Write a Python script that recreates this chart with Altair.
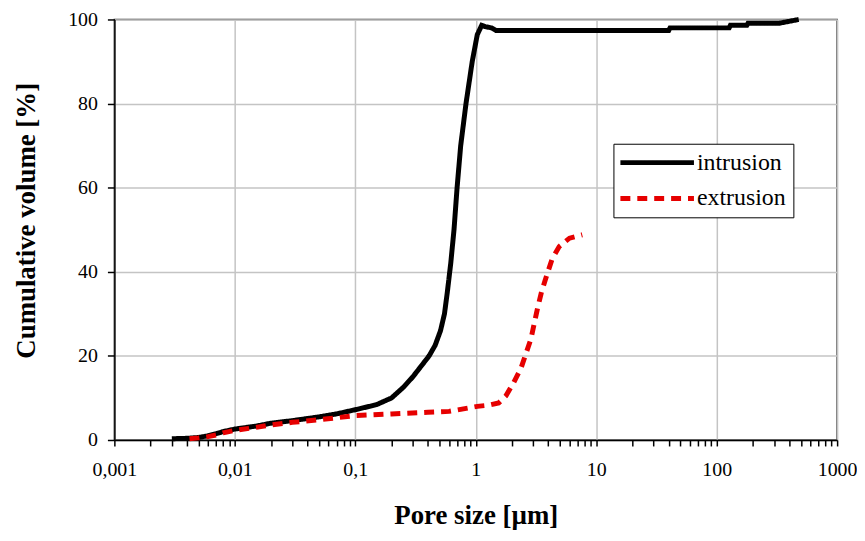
import altair as alt
import pandas as pd

# Intrusion curve (pore size in µm, cumulative volume in %)
intr_x = [0.003, 0.004, 0.005, 0.006, 0.007, 0.008, 0.01, 0.015, 0.02, 0.03, 0.05, 0.07,
          0.1, 0.15, 0.2, 0.25, 0.3, 0.34, 0.41, 0.46, 0.51, 0.55, 0.58, 0.62, 0.66, 0.70,
          0.75, 0.83, 0.935, 1.03, 1.12, 1.2, 1.35, 1.47, 40, 41, 127, 130, 178, 182, 330, 480]
intr_y = [0.3, 0.4, 0.6, 1.0, 1.5, 2.0, 2.6, 3.3, 4.0, 4.6, 5.5, 6.2,
          7.2, 8.4, 10, 12.5, 15, 17, 20, 22.5, 26, 30, 35, 42, 50, 60,
          70, 80, 90, 96.4, 98.6, 98.3, 98.0, 97.4, 97.4, 98.0, 98.0, 98.6, 98.6, 99.1, 99.1, 100]

# Extrusion curve
extr_x = [0.0042, 0.005, 0.006, 0.007, 0.008, 0.01, 0.015, 0.02, 0.03, 0.05, 0.1, 0.2, 0.4,
          0.6, 1.03, 1.3, 1.55, 1.78, 2.05, 2.37, 2.87, 3.24, 3.5, 3.77, 4.3, 4.93, 6.0, 7.66]
extr_y = [0.3, 0.5, 0.8, 1.2, 1.7, 2.3, 3.0, 3.6, 4.2, 4.8, 5.8, 6.2, 6.6,
          6.8, 8.0, 8.3, 8.8, 10.5, 13.5, 17, 24, 31, 35, 38, 43, 46, 48, 48.8]

series = ["intrusion", "extrusion"]
colors = ["#000000", "#e60000"]
dashes = [[1, 0], [10, 7]]

x_ticks = [round(m * 10 ** k, 6) for k in range(-3, 3) for m in range(1, 10)] + [1000]
y_ticks = [0, 20, 40, 60, 80, 100]

df = pd.concat([
    pd.DataFrame({"x": intr_x, "y": intr_y, "series": "intrusion"}),
    pd.DataFrame({"x": extr_x, "y": extr_y, "series": "extrusion"}),
])

decade = "abs(log(datum.value)/LN10 - round(log(datum.value)/LN10)) < 0.001"
FONT = "Liberation Serif"

chart = alt.Chart(df).mark_line(strokeWidth=5, strokeCap="butt").encode(
    x=alt.X("x:Q",
            scale=alt.Scale(type="log", domain=[0.001, 1000], nice=False),
            axis=alt.Axis(values=x_ticks, title="Pore size [µm]",
                          labelExpr=f"{decade} ? replace(toString(datum.value), '.', ',') : ''",
                          labelOverlap=False, labelFlush=False,
                          labelFont=FONT, labelFontSize=20, labelColor="black",
                          gridOpacity={"condition": {"test": decade, "value": 1}, "value": 0},
                          ticks=True, tickSize=6, tickWidth=1.5, tickColor="black",
                          labelPadding=14,
                          titleX=363.5, titleY=84, titleBaseline="alphabetic",
                          titleAlign="center")),
    y=alt.Y("y:Q", scale=alt.Scale(domain=[0, 100], nice=False),
            axis=alt.Axis(values=y_ticks, title="Cumulative volume [%]",
                          labelFont=FONT, labelFontSize=20, labelColor="black",
                          ticks=True, tickSize=7, tickWidth=1.5, tickColor="black",
                          labelPadding=10,
                          titleX=-88, titleY=202, titleAngle=-90,
                          titleAlign="center", titleBaseline="middle")),
    color=alt.Color("series:N", scale=alt.Scale(domain=series, range=colors),
                    legend=alt.Legend(title=None, orient="none", legendX=502, legendY=125,
                                      symbolType="M-4,0L4,0", symbolSize=342,
                                      symbolStrokeWidth=5, symbolOffset=25,
                                      labelFontSize=24, labelFont=FONT,
                                      labelColor="black", labelOffset=28,
                                      rowPadding=12,
                                      strokeColor="black", fillColor="white", padding=7)),
    strokeDash=alt.StrokeDash("series:N", scale=alt.Scale(domain=series, range=dashes),
                              legend=None),
).properties(
    width=727, height=423,
    autosize=alt.AutoSizeParams(type="none"),
    padding={"left": 107, "top": 10, "right": 20, "bottom": 89},
).configure_view(
    stroke="#333333", strokeWidth=1.5,
).configure_axis(
    titleFont=FONT, titleFontSize=27, titleFontWeight="bold", titleColor="black",
    domainColor="black", domainWidth=1.5,
    gridColor="#c4c4c4", gridWidth=1.5,
)

chart.save("out.html", embed_options={"renderer": "svg", "actions": False})
